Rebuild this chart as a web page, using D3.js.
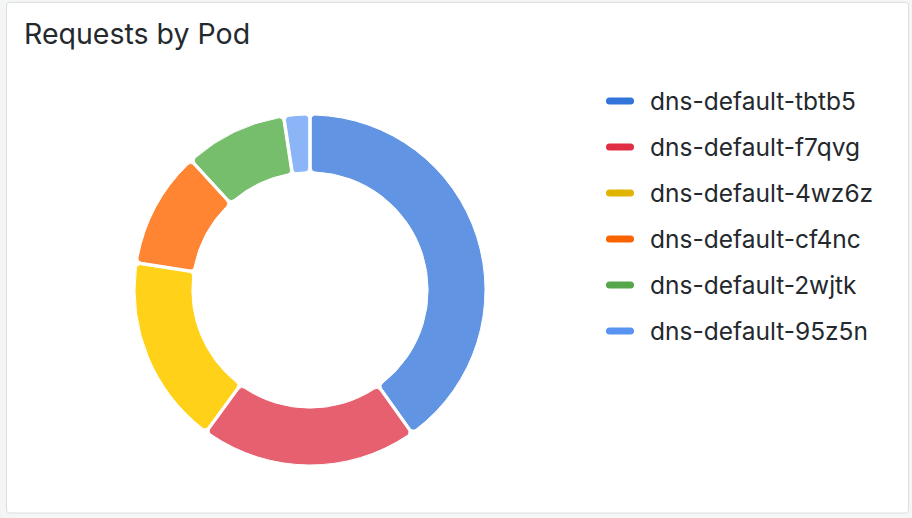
<!DOCTYPE html>
<html>
<head>
<meta charset="utf-8">
<script src="https://cdn.jsdelivr.net/npm/d3@7"></script>
<style>
  html, body { margin: 0; padding: 0; background: #f4f5f5; }
  svg { display: block; font-family: Inter, "Noto Sans", sans-serif; }
</style>
</head>
<body>
<div id="chart"></div>
<script>
var pods = ["dns-default-tbtb5", "dns-default-f7qvg", "dns-default-4wz6z",
            "dns-default-cf4nc", "dns-default-2wjtk", "dns-default-95z5n"];
var requests = [401, 199, 174, 107, 94, 24];
var colors = ["#3274D9", "#E02F44", "#E0B400", "#FA6400", "#56A64B", "#5794F2"];

// lighter / hue-shifted variant of a colour, for the slice gradients
function shade(c, lighten, spin) {
    var h = d3.hsl(c);
    h.l = Math.min(1, h.l + lighten / 100);
    h.h = (h.h + spin + 360) % 360;
    return h.formatHex();
}

function init() {
    var w = 912, h = 518;
    var cx = 310, cy = 290;
    var outer = 175, inner = outer * 0.675;

    var svg = d3.select("#chart").append("svg")
        .attr("width", w)
        .attr("height", h);

    svg.append("rect")
        .attr("x", 6.5).attr("y", 2.5)
        .attr("width", 902).attr("height", 510.5)
        .attr("rx", 3)
        .attr("fill", "#fff")
        .attr("stroke", "#dcdee1");

    svg.append("text")
        .attr("x", 24).attr("y", 44)
        .attr("font-size", 28.5)
        .attr("fill", "#24292e")
        .text("Requests by Pod");

    var defs = svg.append("defs");
    colors.forEach(function(c, i) {
        var g = defs.append("radialGradient")
            .attr("id", "grad" + i)
            .attr("gradientUnits", "userSpaceOnUse")
            .attr("cx", cx).attr("cy", cy).attr("r", outer);
        g.append("stop").attr("offset", inner / outer).attr("stop-color", shade(c, 17, 5));
        g.append("stop").attr("offset", 1).attr("stop-color", shade(c, 11, 0));
    });

    var pie = d3.pie().sort(null).value(function(d) { return d; });
    var arc = d3.arc()
        .innerRadius(inner)
        .outerRadius(outer)
        .padAngle(0.012)
        .cornerRadius(4);

    svg.append("g")
        .attr("transform", "translate(" + cx + "," + cy + ")")
        .selectAll("path")
        .data(pie(requests))
        .enter()
        .append("path")
        .attr("d", arc)
        .attr("fill", function(d, i) { return "url(#grad" + i + ")"; })
        .attr("stroke", "#fff")
        .attr("stroke-width", 1);

    var legendY = d3.scalePoint()
        .domain(pods)
        .range([101, 331]);

    var legend = svg.append("g").selectAll("g")
        .data(pods)
        .enter()
        .append("g")
        .attr("transform", function(d) { return "translate(606," + legendY(d) + ")"; });

    legend.append("rect")
        .attr("x", 0).attr("y", -3.5)
        .attr("width", 28).attr("height", 7)
        .attr("rx", 3.5)
        .attr("fill", function(d, i) { return colors[i]; });

    legend.append("text")
        .attr("x", 44)
        .attr("dy", "0.35em")
        .attr("font-size", 24.5)
        .attr("fill", "#24292e")
        .text(function(d) { return d; });
}

window.onload = init;
</script>
</body>
</html>
